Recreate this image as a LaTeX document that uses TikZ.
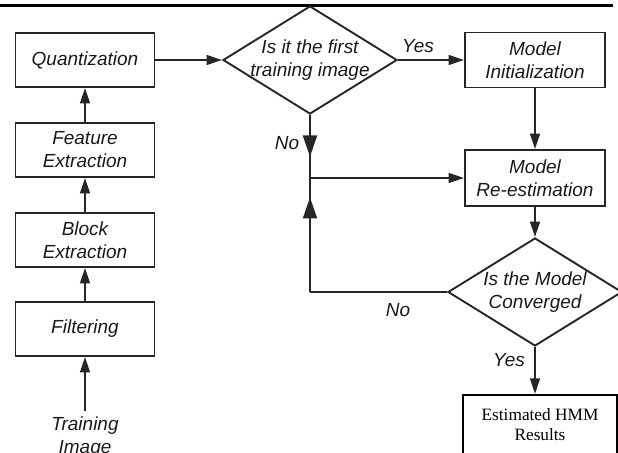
\documentclass[tikz,border=0pt]{standalone}
\usepackage{fontspec}
\setmainfont{Liberation Sans}
\newfontfamily\resfont{Liberation Serif}
\usetikzlibrary{shapes.geometric,arrows.meta,decorations.markings}

\begin{document}
\begin{tikzpicture}[x=0.025cm,y=-0.025cm,line width=1.35pt,
    box/.style={draw=black!85,rectangle,minimum width=3.475cm,minimum height=1.35cm,
      align=center,text=black!90,font=\fontsize{13.5}{16.3}\selectfont\itshape},
    test/.style={draw=black!85,diamond,aspect=1.6,inner sep=-5pt,minimum width=4.35cm,
      minimum height=2.7cm,align=center,text=black!90,font=\fontsize{13.5}{16.3}\selectfont\itshape},
    lbl/.style={text=black!90,font=\fontsize{13.5}{16.3}\selectfont\itshape},
    arr/.style={draw=black!85,-{Triangle[length=11pt,width=7pt]}},
    midarr/.style={draw=black!85,postaction={decorate},decoration={markings,
      mark=at position #1 with {\arrow{Triangle[length=15pt,width=10pt]}}}}]
          \clip (0,0) rectangle (618,453);
          \draw[line width=2.2pt] (0,5.5) -- (613,5.5);
          % left column
          \foreach \nm/\y/\txt in {quant/60/Quantization,feat/150/{Feature\\Extraction},
              block/240/{Block\\Extraction},filt/329/Filtering}{
            \node[box] (\nm) at (85,\y) {\txt};}
          \node[lbl,align=center] (train) at (85,437) {Training\\Image};
          \foreach \a/\b in {train/filt,filt/block,block/feat,feat/quant}{
            \draw[arr] (\a) -- (\b);}
          % right part
          \node[test] (first) at (310,60) {Is it the first\\training image};
          \node[box,minimum width=3.5cm,minimum height=1.375cm] (init) at (535,60) {Model\\Initialization};
          \node[box,minimum width=3.5cm,minimum height=1.4cm] (reest) at (535,178) {Model\\Re-estimation};
          \node[test] (conv) at (535,292) {Is the Model\\Converged};
          \node[draw=black,line width=1.6pt,minimum width=3.85cm,minimum height=1.5cm,align=center,
            font=\resfont\fontsize{12.3}{14.2}\selectfont] (res) at (540,425) {Estimated HMM\\Results};
          \coordinate (join) at (310,178);
          \coordinate (back) at (310,292);
          \draw[arr] (quant) -- (first);
          \draw[arr] (first) -- (init);
          \draw[arr] (init) -- (reest);
          \draw[arr] (join) -- (reest);
          \draw[arr] (reest) -- (conv);
          \draw[arr] (conv) -- (conv |- res.north);
          \draw[midarr=0.66] (first.south) -- (join);
          \draw[draw=black!85] (conv.west) -- (back);
          \draw[midarr=0.83] (back) -- (join);
          \node[lbl] (yes1) at (418,46) {Yes};
          \node[lbl] (no1) at (287,143) {No};
          \node[lbl] (no2) at (398,310) {No};
          \node[lbl] (yes2) at (509,360) {Yes};
        \end{tikzpicture}
\end{document}
